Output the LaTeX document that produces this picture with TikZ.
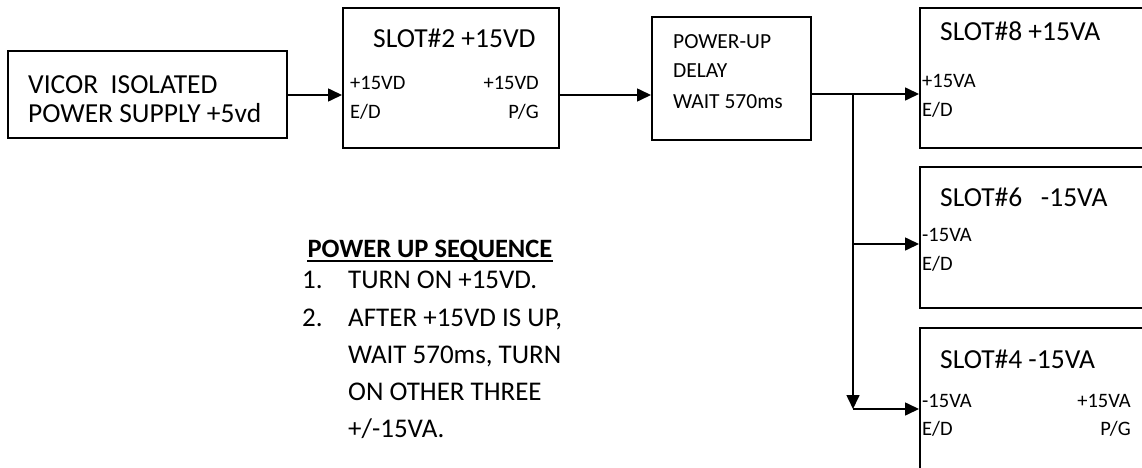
\documentclass[tikz,border=0pt]{standalone}
\usepackage{fontspec}
\setmainfont{Carlito}
\usetikzlibrary{arrows.meta}
\begin{document}
\begin{tikzpicture}[x=1pt,y=-1pt,
  box/.style={draw=black,line width=2pt,inner sep=0pt},
  big/.style={font=\fontsize{27.5}{30}\selectfont,inner sep=0pt},
  small/.style={font=\fontsize{20.5}{24}\selectfont,inner sep=0pt},
  dly/.style={font=\fontsize{21.5}{24}\selectfont,inner sep=0pt},
  seq/.style={font=\fontsize{27}{30}\selectfont,inner sep=0pt},
  arr/.style={line width=1.6pt,-{Triangle[length=14pt,width=13pt]}},
  ln/.style={line width=1.6pt}]
\useasboundingbox (0,0) rectangle (1142,468);
\clip (0,0) rectangle (1142,468);
% boxes
\node[box,minimum width=279pt,minimum height=87pt] (vicor) at (147.5,94.5) {};
\node[box,minimum width=216pt,minimum height=140pt] (slot2) at (451,78) {};
\node[box,minimum width=159pt,minimum height=123pt] (delay) at (731.5,78.5) {};
\node[box,minimum width=240pt,minimum height=140pt] (slot8) at (1040,78) {};
\node[box,minimum width=240pt,minimum height=141pt] (slot6) at (1040,237.5) {};
\node[box,minimum width=240pt,minimum height=160pt] (slot4) at (1040,408) {};
% texts
\node[big,anchor=base west] (t1) at (28,94) {VICOR\ \ ISOLATED};
\node[big,anchor=base west] (t2) at (28,123) {POWER SUPPLY +5vd};
\node[big,anchor=base west] (s2t) at (373,48) {SLOT\#2 +15VD};
\node[small,anchor=base west] (s2a) at (350,90) {+15VD};
\node[small,anchor=base west] (s2b) at (350,118) {E/D};
\node[small,anchor=base east] (s2c) at (539,90) {+15VD};
\node[small,anchor=base east] (s2d) at (539,118) {P/G};
\node[dly,anchor=base west] (d1) at (673,49) {POWER-UP};
\node[dly,anchor=base west] (d2) at (673,78) {DELAY};
\node[dly,anchor=base west] (d3) at (673,109) {WAIT 570ms};
\node[big,anchor=base west] (s8t) at (940,41) {SLOT\#8 +15VA};
\node[small,anchor=base west] (s8a) at (922,88) {+15VA};
\node[small,anchor=base west] (s8b) at (922,117) {E/D};
\node[big,anchor=base west] (s6t) at (940,206) {SLOT\#6\ \ \ -15VA};
\node[small,anchor=base west] (s6a) at (922,241) {-15VA};
\node[small,anchor=base west] (s6b) at (922,270) {E/D};
\node[big,anchor=base west] (s4t) at (940,368) {SLOT\#4 -15VA};
\node[small,anchor=base west] (s4a) at (922,407) {-15VA};
\node[small,anchor=base west] (s4b) at (922,435) {E/D};
\node[small,anchor=base east] (s4c) at (1131,407) {+15VA};
\node[small,anchor=base east] (s4d) at (1131,435) {P/G};
% sequence
\node[seq,anchor=base,font=\fontsize{26.5}{30}\selectfont\bfseries] (seqt) at (430,257) {POWER UP SEQUENCE};
\draw[line width=1.5pt] ([yshift=-4pt]seqt.base west) -- ([yshift=-4pt]seqt.base east);
\node[seq,anchor=base west] (n1) at (302,288) {1.};
\node[seq,anchor=base west] (l1) at (348,288) {TURN ON +15VD.};
\node[seq,anchor=base west] (n2) at (302,326) {2.};
\node[seq,anchor=base west] (l2) at (348,326) {AFTER +15VD IS UP,};
\node[seq,anchor=base west] (l3) at (348,363) {WAIT 570ms, TURN};
\node[seq,anchor=base west] (l4) at (348,400) {ON OTHER THREE};
\node[seq,anchor=base west] (l5) at (348,437) {+/-15VA.};
% connectors
\coordinate (a1) at (300,95);
\coordinate (a2) at (600,95);
\coordinate (j1) at (853,94);
\coordinate (j2) at (853,244);
\coordinate (j3) at (853,409);
\draw[arr] (vicor.east |- a1) -- (slot2.west |- a1);
\draw[arr] (slot2.east |- a2) -- (delay.west |- a2);
\draw[arr] (delay.east |- j1) -- (slot8.west |- j1);
\draw[arr] (j1) -- (j3);
\draw[arr] (j2) -- (slot6.west |- j2);
\draw[arr] (j3) -- (slot4.west |- j3);
\end{tikzpicture}
\end{document}
